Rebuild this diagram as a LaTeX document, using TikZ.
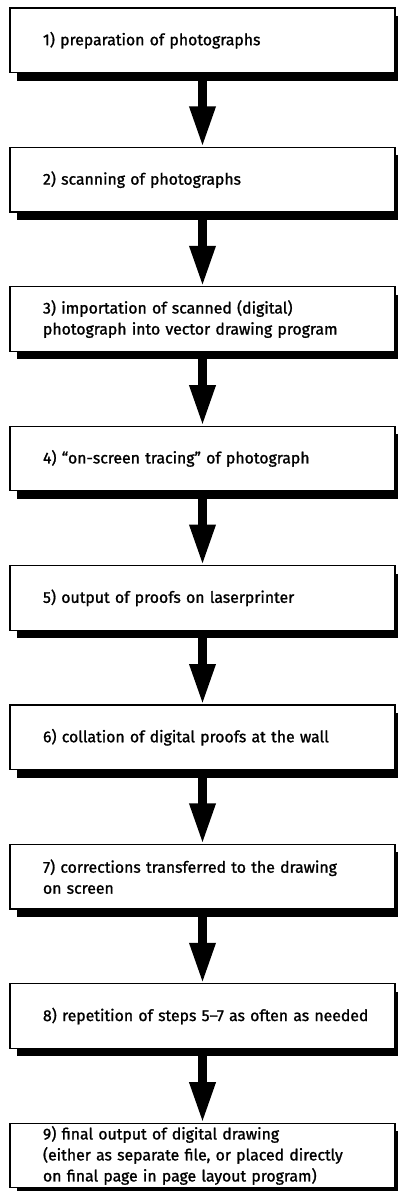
\documentclass[tikz,border=0pt]{standalone}
\usepackage{fontspec}
\setmainfont{Fira Sans}[FakeBold=1.2]
\usetikzlibrary{positioning}
\usetikzlibrary{backgrounds}
\usetikzlibrary{arrows.meta}

\tikzset{
  stage/.style={draw,line width=1.2pt,fill=white,rectangle,outer sep=0pt,
    minimum width=385pt,minimum height=64.5pt,text width=349pt,
    inner xsep=18pt,inner ysep=0pt,align=left,
    font=\fontsize{15.8}{21}\selectfont,
    execute at begin node={\leftskip=15pt}},
  flow/.style={line width=9pt,-{Triangle[length=41pt,width=24pt]}}
}

\begin{document}
\begin{tikzpicture}[x=1pt,y=1pt,node distance=74.9pt]
  \useasboundingbox (0,0) rectangle (398,-1191);
  \node (prep) [stage,anchor=north west] at (10,-8) {1) preparation of photographs};
  \node (scan) [stage,below=of prep] {2) scanning of photographs};
  \node (imp) [stage,below=of scan] {3) importation of scanned (digital)\\
    photograph into vector drawing program};
  \node (trace) [stage,below=of imp] {4) “on-screen tracing” of photograph};
  \node (proof) [stage,below=of trace] {5) output of proofs on laserprinter};
  \node (coll) [stage,below=of proof] {6) collation of digital proofs at the wall};
  \node (corr) [stage,below=of coll] {7) corrections transferred to the drawing\\
    on screen};
  \node (rep) [stage,below=of corr] {8) repetition of steps 5–7 as often as needed};
  \node (final) [stage,below=of rep] {9) final output of digital drawing\\
    (either as separate file, or placed directly\\
    on final page in page layout program)};

  % black offset shadows behind the boxes
  \begin{scope}[on background layer]
    \foreach \s in {prep,scan,imp,trace,proof,coll,corr,rep,final}
      \fill ([shift={(7,-8)}]\s.south west) rectangle ([shift={(7,-8)}]\s.north east);
  \end{scope}

  \draw[flow] (prep) -- (scan);
  \draw[flow] (scan) -- (imp);
  \draw[flow] (imp) -- (trace);
  \draw[flow] (trace) -- (proof);
  \draw[flow] (proof) -- (coll);
  \draw[flow] (coll) -- (corr);
  \draw[flow] (corr) -- (rep);
  \draw[flow] (rep) -- (final);
\end{tikzpicture}
\end{document}
